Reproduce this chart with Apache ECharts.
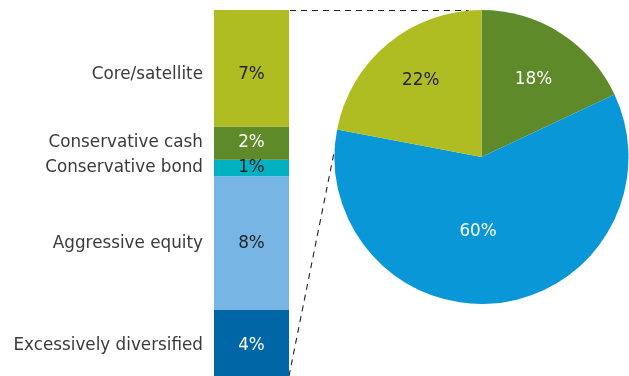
<!DOCTYPE html>
<html>
<head>
<meta charset="utf-8">
<script src="https://cdn.jsdelivr.net/npm/echarts@6/dist/echarts.min.js"></script>
<style>html,body{margin:0;padding:0;background:#fff}#c{width:629px;height:376px}</style>
</head>
<body>
<div id="c"></div>
<script>
// ---- data ----
const barCategories = ['Excessively diversified', 'Aggressive equity', 'Conservative bond', 'Conservative cash', 'Core/satellite'];
const barValues = [4, 8, 1, 2, 7];
const pieCategories = ['Slice 1', 'Slice 2', 'Slice 3'];
const pieValues = [18, 60, 22];

// ---- styles ----
const barColors = ['#0066a6', '#77b6e4', '#00b1c1', '#5e8a2a', '#afbd22'];
const barLabelColors = ['#ffffff', '#222222', '#222222', '#ffffff', '#222222'];
const barLabelOffsets = [[0, 3], [0, 1], [0, 0], [0, 0], [0, 6]];
const pieColors = ['#5e8a2a', '#0997d8', '#afbd22'];
const pieLabelColors = ['#ffffff', '#ffffff', '#222222'];
const pieLabelOffsets = [[11, -13], [-13, -1], [-12, -17]];
const FONT = 'DejaVu Sans';
const FS = 16.8;
const GRID = { left: 214, top: 10, width: 75, bottom: 0 };
const PIE_C = [481.5, 157], PIE_R = 147;

const total = barValues.reduce((a, b) => a + b, 0);
let cum = 0;
const mids = barValues.map(v => { const m = cum + v / 2; cum += v; return m; });

const series = barCategories.map((name, i) => ({
  type: 'bar', name, stack: 'one', barWidth: '100%',
  itemStyle: { color: barColors[i] },
  label: {
    show: true, position: 'left', distance: 11, formatter: '{a}',
    fontFamily: FONT, fontSize: FS, color: '#3a3a3a', offset: barLabelOffsets[i]
  },
  emphasis: { disabled: true },
  data: [barValues[i]]
}));
series.push({
  type: 'scatter', symbolSize: 0, silent: true,
  itemStyle: { opacity: 1, color: 'rgba(0,0,0,0)' },
  emphasis: { disabled: true },
  data: barValues.map((v, i) => ({
    value: [0, mids[i]],
    label: { color: barLabelColors[i], offset: barLabelOffsets[i] }
  })),
  label: {
    show: true, position: 'inside', fontFamily: FONT, fontSize: FS,
    textBorderWidth: 0, textBorderColor: 'transparent', textShadowBlur: 0,
    formatter: p => barValues[p.dataIndex] + '%'
  },
  z: 5
});
series.push({
  type: 'pie', center: PIE_C, radius: PIE_R, startAngle: 90, clockwise: true,
  silent: true, animation: false,
  label: { show: true, position: 'inside', fontFamily: FONT, fontSize: FS, formatter: '{c}%', textBorderWidth: 0 },
  labelLine: { show: false },
  data: pieCategories.map((n, i) => ({
    name: n, value: pieValues[i],
    itemStyle: { color: pieColors[i] },
    label: { color: pieLabelColors[i], offset: pieLabelOffsets[i] }
  }))
});

const chart = echarts.init(document.getElementById('c'), null, { renderer: 'canvas' });
chart.setOption({
  animation: false,
  grid: GRID,
  xAxis: { type: 'category', data: ['bar'], show: false },
  yAxis: { type: 'value', min: 0, max: total, show: false },
  series
});

// dashed connectors from bar corners to the pie outline
const circlePt = deg => [PIE_C[0] + PIE_R * Math.cos(deg * Math.PI / 180), PIE_C[1] + PIE_R * Math.sin(deg * Math.PI / 180)];
const topPx = chart.convertToPixel({ gridIndex: 0 }, [0, total]);
const botPx = chart.convertToPixel({ gridIndex: 0 }, [0, 0]);
const rightX = GRID.left + GRID.width;
const P1 = [rightX + 1, topPx[1] + 0.5], P2 = [rightX, botPx[1]];
const T1 = [circlePt(265)[0], P1[1]];
const T2 = circlePt(183);
const dashStyle = { stroke: '#222', lineWidth: 1.1, lineDash: [6, 5] };
chart.setOption({
  graphic: [
    { type: 'line', shape: { x1: P1[0], y1: P1[1], x2: T1[0], y2: T1[1] }, style: dashStyle, z: 1 },
    { type: 'line', shape: { x1: P2[0], y1: P2[1], x2: T2[0], y2: T2[1] }, style: dashStyle, z: 1 }
  ]
});
</script>
</body>
</html>
